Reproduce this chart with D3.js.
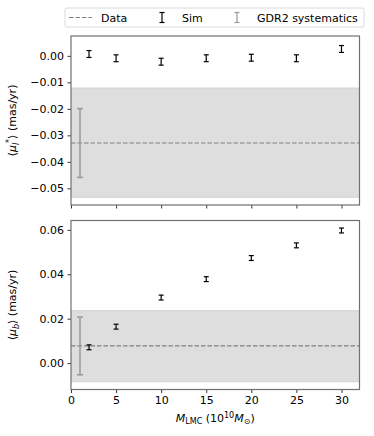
<!DOCTYPE html>
<html>
<head>
<meta charset="utf-8">
<script src="https://cdn.jsdelivr.net/npm/d3@7"></script>
<style>
  body { margin:0; background:#fff; }
  svg text { font-family:"DejaVu Sans", sans-serif; }
</style>
</head>
<body>
<div id="chart"></div>
<script>
// LMC mass values (x) for simulated runs
var massLMC = [2, 5, 10, 15, 20, 25, 30];
// <mu_l*> sims
var muL = [0.0007, -0.0009, -0.0022, -0.0009, -0.0007, -0.0009, 0.0026];
var muLErr = [0.0013, 0.0013, 0.0013, 0.0013, 0.0013, 0.0013, 0.0013];
// <mu_b> sims
var muB = [0.0071, 0.0164, 0.0295, 0.0378, 0.0473, 0.0530, 0.0597];
var muBErr = [0.0011, 0.0011, 0.0011, 0.0011, 0.0011, 0.0011, 0.0011];
// data + GDR2 systematics
var dataL = -0.0329, bandL = [-0.0534, -0.01215], sysL = 0.013;
var dataB = 0.0077, bandB = [-0.0084, 0.0236], sysB = 0.013;
var sysX = 1;
var xTicks = [0, 5, 10, 15, 20, 25, 30];
var yTicksL = [0.00, -0.01, -0.02, -0.03, -0.04, -0.05];
var yTicksB = [0.00, 0.02, 0.04, 0.06];

var W = 374, H = 436, FS = 11;
var svg = d3.select("#chart").append("svg").attr("width", W).attr("height", H);

var left = 71, right = 359.5;
var x = d3.scaleLinear().domain([0, 32]).range([left, right]);

function drawPanel(top, bottom, domain, ticks, vals, errs, dataVal, band, sys, showLabels, ylabel) {
  var y = d3.scaleLinear().domain(domain).range([bottom, top]);
  var g = svg.append("g");

  // shaded band
  g.append("rect")
    .attr("x", left).attr("width", right - left)
    .attr("y", y(band[1])).attr("height", y(band[0]) - y(band[1]))
    .attr("fill", "#dedede");
  [band[0], band[1]].forEach(function(v){
    g.append("line").attr("x1", left).attr("x2", right)
      .attr("y1", y(v)).attr("y2", y(v))
      .attr("stroke", "#d2d2d2").attr("stroke-width", 1);
  });

  // data dashed line
  g.append("line").attr("x1", left).attr("x2", right)
    .attr("y1", y(dataVal)).attr("y2", y(dataVal))
    .attr("stroke", "#808080").attr("stroke-width", 1.2)
    .attr("stroke-dasharray", "4.5,2");

  // GDR2 systematic bar
  errBar(g, x(sysX), y(dataVal + sys), y(dataVal - sys), "#999999", 1.5, 3);

  // sims
  massLMC.forEach(function(m, i){
    errBar(g, x(m), y(vals[i] + errs[i]), y(vals[i] - errs[i]), "#000", 1.2, 2.5);
  });

  // axes
  var yAxis = d3.axisLeft(y).tickValues(ticks).tickFormat(d3.format(".2f")).tickSize(3.5).tickPadding(3.5);
  var ya = g.append("g").attr("transform", "translate(" + left + ",0)").call(yAxis);
  var xAxis = d3.axisBottom(x).tickValues(xTicks).tickSize(3.5).tickPadding(3.5);
  if (!showLabels) xAxis.tickFormat("");
  var xa = g.append("g").attr("transform", "translate(0," + bottom + ")").call(xAxis);
  [ya, xa].forEach(function(a){
    a.select(".domain").remove();
    a.selectAll("line").attr("stroke", "#000").attr("stroke-width", 0.8);
    a.selectAll("text").attr("font-size", FS).attr("fill", "#000")
      .text(function(d){ var t = d3.select(this).text(); return t.replace("-", "\u2212"); });
  });

  g.append("rect").attr("x", left).attr("y", top)
    .attr("width", right - left).attr("height", bottom - top)
    .attr("fill", "none").attr("stroke", "#707070").attr("stroke-width", 1.2);

  var lab = g.append("text")
    .attr("transform", "translate(16," + ((top + bottom) / 2) + ") rotate(-90)")
    .attr("text-anchor", "middle").attr("font-size", FS);
  ylabel(lab);
  return y;
}

function errBar(g, cx, y1, y2, color, sw, cap) {
  g.append("line").attr("x1", cx).attr("x2", cx).attr("y1", y1).attr("y2", y2)
    .attr("stroke", color).attr("stroke-width", sw);
  [y1, y2].forEach(function(yy){
    g.append("line").attr("x1", cx - cap).attr("x2", cx + cap).attr("y1", yy).attr("y2", yy)
      .attr("stroke", color).attr("stroke-width", sw);
  });
}

drawPanel(36, 205, [-0.0563, 0.0075], yTicksL, muL, muLErr, dataL, bandL, sysL, false, function(t){
  t.append("tspan").text("\u27E8");
  t.append("tspan").attr("font-style", "italic").text("\u03BC");
  t.append("tspan").attr("font-size", 8).attr("dy", 3).attr("font-style", "italic").text("l");
  t.append("tspan").attr("font-size", 8).attr("dy", -7).text("*");
  t.append("tspan").attr("dy", 4).text("\u27E9 (mas/yr)");
});

drawPanel(220.5, 389.5, [-0.0119, 0.0642], yTicksB, muB, muBErr, dataB, bandB, sysB, true, function(t){
  t.append("tspan").text("\u27E8");
  t.append("tspan").attr("font-style", "italic").text("\u03BC");
  t.append("tspan").attr("font-size", 8).attr("dy", 3).attr("font-style", "italic").text("b");
  t.append("tspan").attr("dy", -3).text("\u27E9 (mas/yr)");
});

// x label
var xl = svg.append("text").attr("x", (left + right) / 2).attr("y", 422)
  .attr("text-anchor", "middle").attr("font-size", FS);
xl.append("tspan").attr("font-style", "italic").text("M");
xl.append("tspan").attr("font-size", 8).attr("dy", 2).text("LMC");
xl.append("tspan").attr("dy", -2).text(" (10");
xl.append("tspan").attr("font-size", 8).attr("dy", -4).text("10");
xl.append("tspan").attr("dy", 4).attr("font-style", "italic").text("M");
xl.append("tspan").attr("font-size", 8).attr("dy", 2).text("\u2299");
xl.append("tspan").attr("dy", -2).text(")");

// legend
var lg = svg.append("g");
lg.append("rect").attr("x", 65).attr("y", 8).attr("width", 299).attr("height", 19).attr("rx", 2)
  .attr("fill", "#fff").attr("stroke", "#d0d0d0").attr("stroke-width", 0.8);
lg.append("line").attr("x1", 69).attr("x2", 92).attr("y1", 17.5).attr("y2", 17.5)
  .attr("stroke", "#808080").attr("stroke-width", 1.2).attr("stroke-dasharray", "4.5,2");
lg.append("text").attr("x", 101).attr("y", 21.5).attr("font-size", FS).text("Data");
errBar(lg, 162, 12.5, 22.5, "#000", 1.2, 2.5);
lg.append("text").attr("x", 182).attr("y", 21.5).attr("font-size", FS).text("Sim");
errBar(lg, 237, 12.5, 22.5, "#999999", 1.2, 2.5);
lg.append("text").attr("x", 257).attr("y", 21.5).attr("font-size", FS).text("GDR2 systematics");
</script>
</body>
</html>
